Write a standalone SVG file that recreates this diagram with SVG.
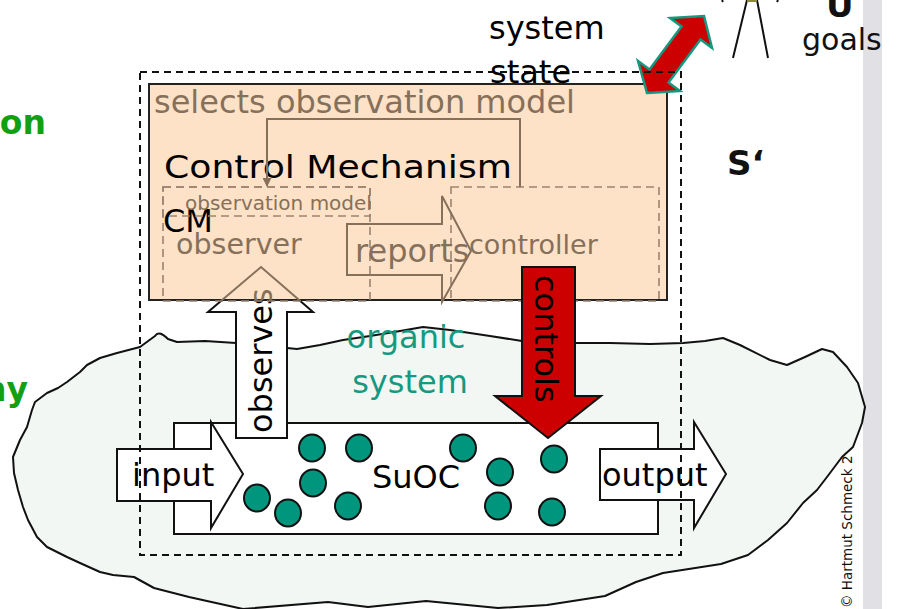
<svg xmlns="http://www.w3.org/2000/svg" width="897" height="609" viewBox="0 0 897 609">
  <defs>
    <style>
      text { font-family: "DejaVu Sans", Verdana, sans-serif; }
      .big { font-size: 32px; fill: #000; }
      .brown { fill: #86705a; }
      .teal { fill: #16997f; font-size: 32px; }
      .green { font-family: "DejaVu Sans", sans-serif; font-weight: bold; font-size: 33px; fill: #12a012; }
      .dash-in { fill: none; stroke: #9a8470; stroke-width: 1.6; stroke-dasharray: 8 5; }
      .dot { fill: #00967e; stroke: #111; stroke-width: 2; }
      .blk { stroke: #111; stroke-width: 2; stroke-linejoin: miter; }
    </style>
    <clipPath id="cm-clip">
      <rect x="149" y="84" width="518" height="216"/>
    </clipPath>
    <marker id="bracket-head" viewBox="0 0 10 10" refX="9" refY="5" markerWidth="9" markerHeight="9" orient="auto" markerUnits="userSpaceOnUse">
      <path d="M0,0 L10,5 L0,10 Z" fill="#86705a"/>
    </marker>
  </defs>

  <rect x="0" y="0" width="897" height="609" fill="#fff"/>
  <!-- side margin bar -->
  <rect x="863" y="0" width="19" height="609" fill="#e1e1e5"/>

  <!-- copyright line along the margin -->
  <text transform="translate(852,608) rotate(-90)" font-size="13.5" fill="#111">© Hartmut Schmeck 2</text>

  <!-- organic system cloud -->
  <g id="organic-system">
    <path d="M155,336 C158,331 163,334 168,339 L177,342 L205,341 L236,343 L287,348 L297,349 L320,345 L343,340 L370,336 L400,331 L423,327 L450,330 L490,336 L522,341 L577,343 L610,343 L650,344 L683,343 L705,341 L723,338 L740,345 L770,360 L787,365 L805,357 L822,349 L833,352 L847,367 L858,383 L865,407 L862,423 L853,447 L842,457 L827,477 L817,490 L803,503 L787,523 L768,540 L748,555 L721,564 L663,573 L636,582 L605,596 L547,605 L498,608 L426,601 L368,607 L328,602 L243,609 L189,597 L154,588 L134,577 L113,575 L100,572 L80,563 L67,557 L47,547 L37,537 L28,520 L23,507 L18,490 L14,473 L13,457 L20,440 L27,427 L32,410 L35,402 L47,393 L58,388 L67,382 L80,372 L87,365 L100,358 L117,353 L140,347 Z" fill="#f2f7f4" stroke="#111" stroke-width="2" stroke-linejoin="round"/>
    <text class="teal" x="406" y="348" text-anchor="middle">organic</text>
    <text class="teal" x="410" y="393" text-anchor="middle">system</text>
  </g>

  <!-- system under observation and control -->
  <g id="suoc">
    <rect x="174" y="423" width="484" height="111" fill="#fff" class="blk"/>
    <ellipse class="dot" cx="312" cy="448" rx="13" ry="13.5"/>
    <ellipse class="dot" cx="359" cy="448" rx="13" ry="13.5"/>
    <ellipse class="dot" cx="313" cy="483" rx="13" ry="13.5"/>
    <ellipse class="dot" cx="257" cy="498" rx="13" ry="13.5"/>
    <ellipse class="dot" cx="288" cy="513" rx="13" ry="13.5"/>
    <ellipse class="dot" cx="348" cy="506" rx="13" ry="13.5"/>
    <ellipse class="dot" cx="463" cy="448" rx="13" ry="13.5"/>
    <ellipse class="dot" cx="500" cy="472" rx="13" ry="13.5"/>
    <ellipse class="dot" cx="554" cy="459" rx="13" ry="13.5"/>
    <ellipse class="dot" cx="498" cy="506" rx="13" ry="13.5"/>
    <ellipse class="dot" cx="552" cy="512" rx="13" ry="13.5"/>
    <text class="big" x="372" y="488" font-size="31">SuOC</text>
  </g>

  <!-- observes arrow (runs beneath the control mechanism) -->
  <g id="observes">
    <path d="M236,438 L236,312 L208,312 L261,267 L313,312 L287,312 L287,438 Z" fill="#fff" class="blk"/>
    <text class="big" transform="translate(272,433) rotate(-90)">observes</text>
  </g>

  <!-- control mechanism -->
  <g id="control-mechanism">
    <rect x="149" y="84" width="518" height="216" fill="#fde2c8" stroke="#222" stroke-width="2"/>
    <text class="brown" x="154" y="113" font-size="32">selects observation model</text>
    <text class="big" x="164" y="178" font-size="35" textLength="348" lengthAdjust="spacingAndGlyphs">Control Mechanism</text>
    <text class="big" x="163" y="232" font-size="37">CM</text>
  </g>

  <g id="observer">
    <rect class="dash-in" x="163" y="187" width="207" height="114"/>
    <rect class="dash-in" x="163" y="187" width="207" height="29"/>
    <text class="brown" x="185" y="210" font-size="20">observation model</text>
    <text class="brown" x="176" y="254" font-size="28.5">observer</text>
  </g>

  <g id="controller">
    <rect class="dash-in" x="451" y="187" width="208" height="114"/>
    <text class="brown" x="469" y="254" font-size="27">controller</text>
  </g>

  <!-- connectors -->
  <g id="connectors">
    <!-- selection of the observation model -->
    <path d="M520,187 L520,119 L267,119 L267,186" fill="none" stroke="#86705a" stroke-width="2" marker-end="url(#bracket-head)"/>

    <!-- reports -->
    <path d="M347,224 L442,224 L442,196 L471,251 L442,302 L442,275 L347,275 Z" fill="none" stroke="#86705a" stroke-width="2"/>
    <text class="brown" x="355" y="262" font-size="32">reports</text>

    <!-- observes head seen through the mechanism box -->
    <g clip-path="url(#cm-clip)">
      <path d="M208,312 L261,267 L313,312" fill="none" stroke="#86705a" stroke-width="2"/>
      <text class="brown" font-size="32" transform="translate(272,433) rotate(-90)">observes</text>
    </g>

    <!-- controls -->
    <path d="M522,267 L575,267 L575,396 L601,396 L548,438 L495,396 L522,396 Z" fill="#cc0000" class="blk"/>
    <text class="big" font-size="31" transform="translate(535,275) rotate(90)">controls</text>

    <!-- input / output -->
    <path d="M117,449 L211,449 L211,422 L243,474 L211,528 L211,501 L117,501 Z" fill="#fff" class="blk"/>
    <text class="big" x="132" y="486">input</text>
    <path d="M600,449 L694,449 L694,422 L726,474 L694,528 L694,500 L600,500 Z" fill="#fff" class="blk"/>
    <text class="big" x="602" y="486">output</text>

    <!-- system state exchange with the goals -->
    <path d="M647,93 L680,91 L668.5,82.5 L700.5,39.5 L712,48 L704,16 L670,18 L681.5,26.5 L649.5,69.5 L638,61 Z" fill="#cc0000" stroke="#17977f" stroke-width="2.5" stroke-linejoin="miter"/>
  </g>

  <!-- boundary of the organic system S' -->
  <rect id="boundary" x="140" y="72" width="541" height="483" fill="none" stroke="#111" stroke-width="2" stroke-dasharray="7 5"/>

  <g id="labels">
    <text class="big" x="489" y="39">system</text>
    <text class="big" x="490" y="83">state</text>
    <text x="727" y="175" font-size="34" font-weight="bold" fill="#111">S‘</text>
    <text x="826" y="17" font-size="34" font-weight="bold" fill="#111">U</text>
    <text x="802" y="50" font-size="30" fill="#111">goals</text>
    <text class="green" x="46" y="134" text-anchor="end">ion</text>
    <text class="green" x="28" y="401" text-anchor="end">ny</text>
  </g>

  <!-- user figure above the goals -->
  <g id="user">
    <path d="M733,58 L747,0 M768,58 L757,0 M722,0 L723,2 M778,0 L777,2" fill="none" stroke="#111" stroke-width="2"/>
    <rect x="747" y="0" width="10" height="2" fill="#8a8a3a"/>
  </g>
</svg>
